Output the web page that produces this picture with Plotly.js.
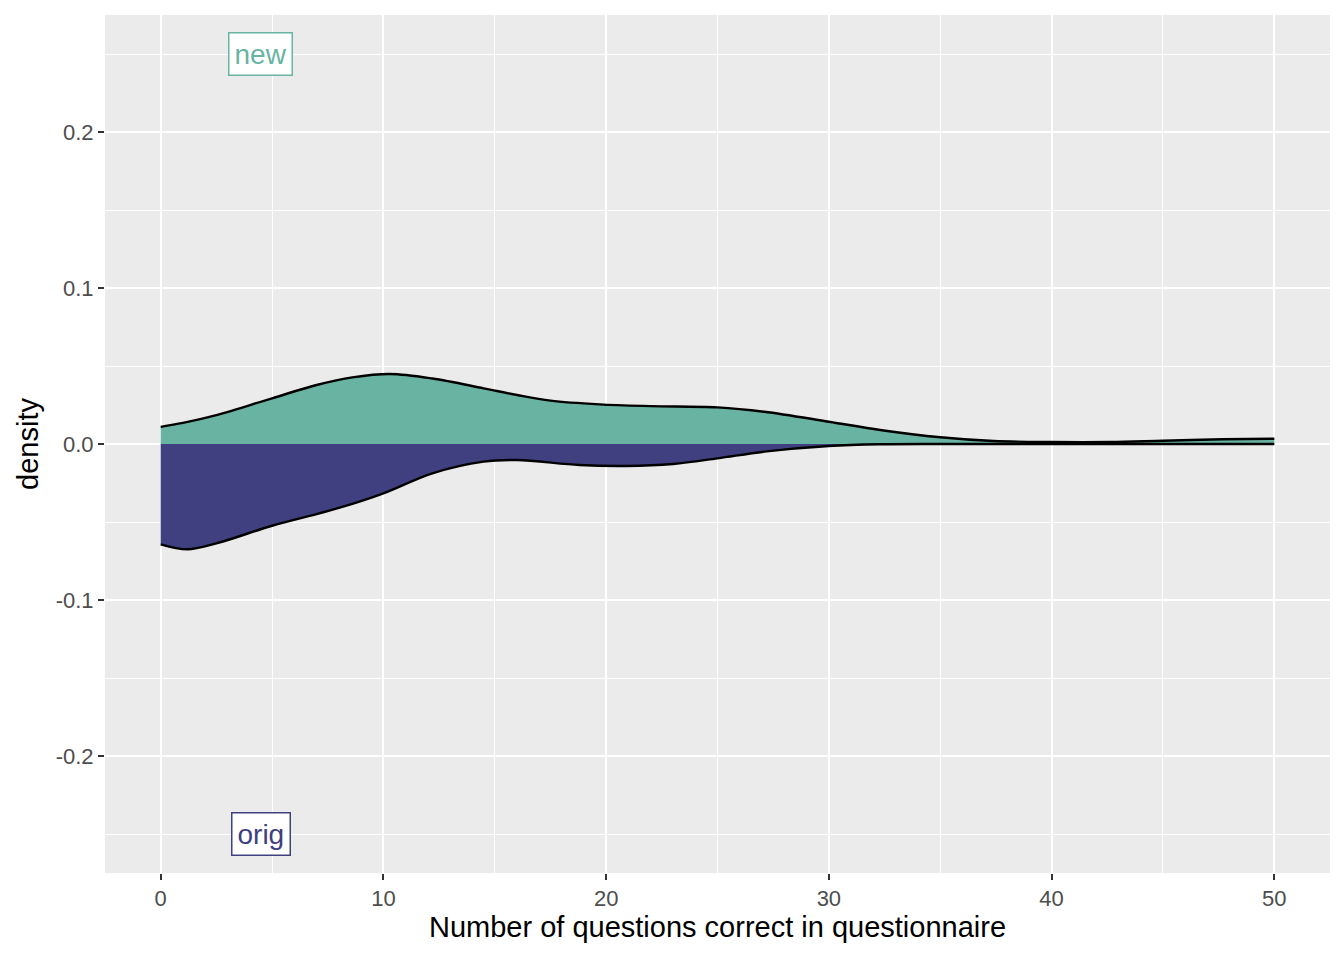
<!DOCTYPE html>
<html>
<head>
<meta charset="utf-8">
<script src="https://cdn.plot.ly/plotly-3.0.1.min.js"></script>
<style>
  body { margin: 0; background: #fff; }
  #chart { width: 1344px; height: 960px; }
</style>
</head>
<body>
<div id="chart"></div>
<script>
// density of "new" group (drawn above zero)
const newX = [0, 1, 2.5, 5, 7, 8.6, 10.3, 12.2, 14.5, 16, 17.5, 19.7, 22, 25, 27.1, 30, 32.3, 35, 37.4, 40, 42.6, 45, 47.7, 50];
const newY = [0.011, 0.0135, 0.0185, 0.0293, 0.0378, 0.0427, 0.0449, 0.042, 0.0357, 0.0314, 0.0278, 0.0254, 0.0243, 0.0235, 0.0207, 0.0143, 0.009, 0.0043, 0.0019, 0.0013, 0.0013, 0.0021, 0.003, 0.0034];

// density of "orig" group (mirrored below zero)
const origX = [0, 1.2, 2.5, 5, 7, 8, 10, 12.2, 14.5, 16, 18.8, 20.9, 23, 25, 27.1, 30, 32.3, 35, 40, 45, 50];
const origY = [-0.0643, -0.0675, -0.0637, -0.0524, -0.0449, -0.041, -0.0316, -0.0188, -0.0113, -0.0103, -0.0135, -0.0141, -0.0128, -0.0092, -0.0049, -0.0013, -0.0002, 0, 0, 0, 0];

const groupNames = ['new', 'orig'];
const groupColors = ['#69b3a2', '#404080'];
const labelX = 4.5;
const labelY = [0.25, -0.25];

const xTicks = [0, 10, 20, 30, 40, 50];
const yTicks = [-0.2, -0.1, 0, 0.1, 0.2];
const yTickText = ['-0.2', '-0.1', '0.0', '0.1', '0.2'];

const traces = [
  { x: newX, y: newY, color: groupColors[0] },
  { x: origX, y: origY, color: groupColors[1] }
].map(s => ({
  x: s.x,
  y: s.y,
  type: 'scatter',
  mode: 'lines',
  fill: 'tozeroy',
  fillcolor: s.color,
  line: { color: '#000', width: 2.4, shape: 'spline', smoothing: 1 },
  hoverinfo: 'x+y',
  showlegend: false
}));

const annotations = groupNames.map((name, i) => ({
  x: labelX,
  y: labelY[i],
  text: name,
  showarrow: false,
  font: { family: 'Liberation Sans, Arial, sans-serif', size: 28, color: groupColors[i] },
  bgcolor: '#fff',
  bordercolor: groupColors[i],
  borderwidth: 1.5,
  borderpad: 5
}));

const layout = {
  width: 1344,
  height: 960,
  margin: { l: 105, r: 14, t: 15, b: 87 },
  paper_bgcolor: '#fff',
  plot_bgcolor: '#ebebeb',
  font: { family: 'Liberation Sans, Arial, sans-serif', color: '#4d4d4d', size: 22 },
  xaxis: {
    range: [-2.5, 52.5],
    tickvals: xTicks,
    ticktext: xTicks.map(String),
    ticks: 'outside',
    ticklen: 6,
    tickwidth: 2,
    tickcolor: '#333',
    showgrid: true,
    gridcolor: '#fff',
    gridwidth: 2,
    minor: { dtick: 5, tick0: 5, showgrid: true, gridcolor: '#fff', gridwidth: 1, ticks: '' },
    zeroline: false,
    showline: false,
    title: { text: 'Number of questions correct in questionnaire', font: { size: 29, color: '#000' }, standoff: 6 }
  },
  yaxis: {
    range: [-0.275, 0.275],
    tickvals: yTicks,
    ticktext: yTickText,
    ticks: 'outside',
    ticklen: 6,
    tickwidth: 2,
    tickcolor: '#333',
    showgrid: true,
    gridcolor: '#fff',
    gridwidth: 2,
    minor: { dtick: 0.05, tick0: 0.05, showgrid: true, gridcolor: '#fff', gridwidth: 1, ticks: '' },
    zeroline: false,
    showline: false,
    title: { text: 'density', font: { size: 29, color: '#000' }, standoff: 8 }
  },
  annotations: annotations
};

Plotly.newPlot('chart', traces, layout, { displayModeBar: false, staticPlot: true });
</script>
</body>
</html>
